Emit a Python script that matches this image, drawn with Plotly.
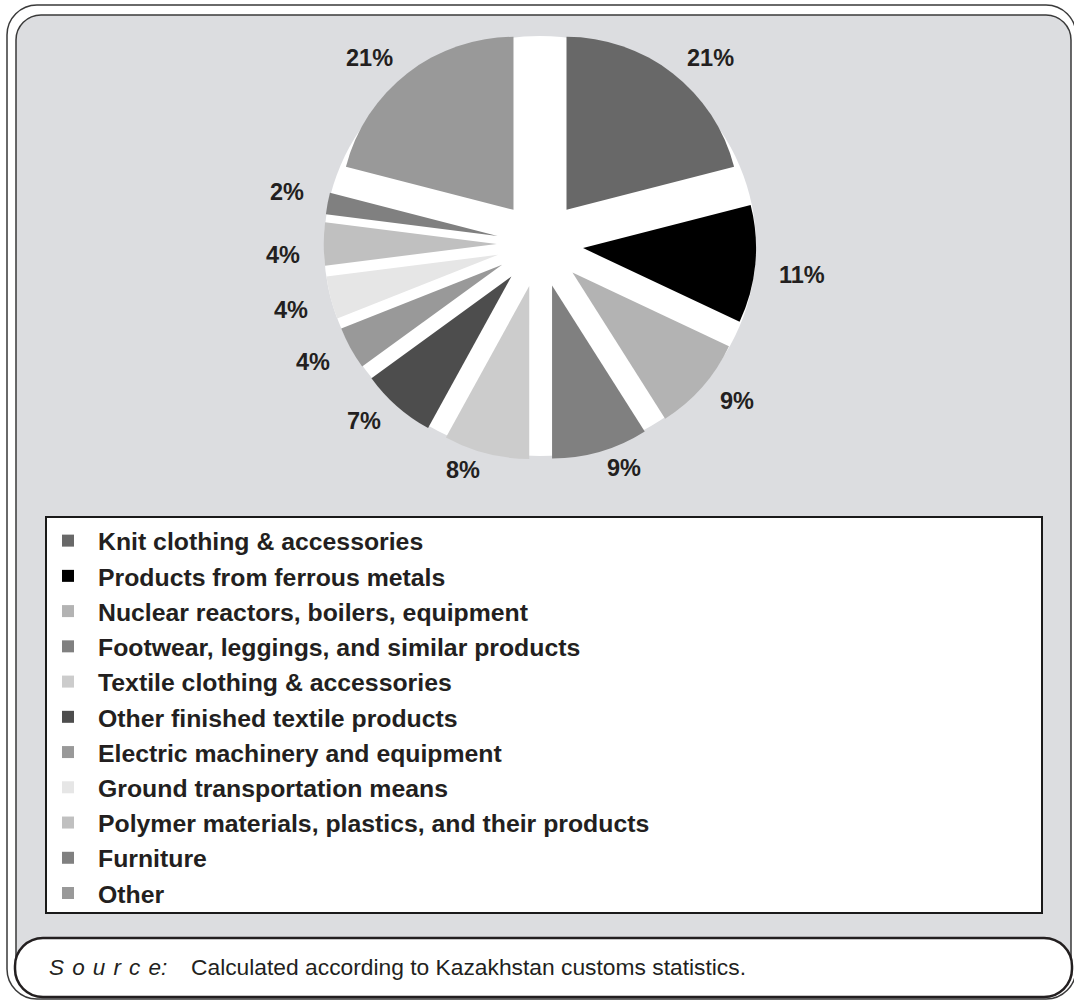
import math
import plotly.graph_objects as go

# Kazakhstan import structure by commodity group, % of total
categories = [
    "Knit clothing & accessories",
    "Products from ferrous metals",
    "Nuclear reactors, boilers, equipment",
    "Footwear, leggings, and similar products",
    "Textile clothing & accessories",
    "Other finished textile products",
    "Electric machinery and equipment",
    "Ground transportation means",
    "Polymer materials, plastics, and their products",
    "Furniture",
    "Other",
]
shares = [21, 11, 9, 9, 8, 7, 4, 4, 4, 2, 21]
slice_colors = [
    "#686868", "#000000", "#b3b3b3", "#808080", "#cccccc", "#4d4d4d",
    "#999999", "#e6e6e6", "#c0c0c0", "#808080", "#999999",
]
source_label = "S\u200a o\u200a u\u200a r\u200a c\u200a e:"
source_text = "Calculated according to Kazakhstan customs statistics."

W, H = 1074, 1000
TEXT = "#231f20"
FONT = "Liberation Sans, Arial, sans-serif"
LABEL_SIZE = 23.5


def rounded_rect(x0, y0, x1, y1, r):
    """SVG path of a rounded rectangle in pixel coordinates (y down)."""
    k = 0.5523 * r
    return (
        f"M{x0 + r},{y0} L{x1 - r},{y0} "
        f"C{x1 - r + k},{y0} {x1},{y0 + r - k} {x1},{y0 + r} "
        f"L{x1},{y1 - r} "
        f"C{x1},{y1 - r + k} {x1 - r + k},{y1} {x1 - r},{y1} "
        f"L{x0 + r},{y1} "
        f"C{x0 + r - k},{y1} {x0},{y1 - r + k} {x0},{y1 - r} "
        f"L{x0},{y0 + r} "
        f"C{x0},{y0 + r - k} {x0 + r - k},{y0} {x0 + r},{y0} Z"
    )


# pie geometry in pixels: centre, radius, explode fraction
pull = 0.25
cx, cy, radius = 540, 244, 173
half_box = radius * (1 + pull)
# label anchor ellipse: the label corner nearest the pie sits on it
label_rx, label_ry = 240, 222

fig = go.Figure()
fig.add_trace(go.Pie(
    labels=categories,
    values=shares,
    sort=False,
    direction="clockwise",
    rotation=0,
    pull=pull,
    marker=dict(colors=slice_colors, line=dict(width=0)),
    textinfo="none",
    domain=dict(
        x=[(cx - half_box) / W, (cx + half_box) / W],
        y=[1 - (cy + half_box) / H, 1 - (cy - half_box) / H],
    ),
    hoverinfo="label+percent",
))

# percentage labels outside each exploded slice, along its mid-angle
annotations = []
total = sum(shares)
cum = 0.0
for v in shares:
    mid = math.radians((cum + v / 2) / total * 360)
    cum += v
    ux, uy = math.sin(mid), -math.cos(mid)
    text = f"{v}%"
    w = (0.556 * (len(text) - 1) + 0.889) * LABEL_SIZE
    h = 0.9 * LABEL_SIZE
    lx = cx + ux * label_rx + math.copysign(w / 2, ux)
    ly = cy + uy * label_ry + math.copysign(h / 2, uy)
    annotations.append(dict(
        x=lx, y=ly, xref="x", yref="y", xanchor="center", yanchor="middle",
        text=text, showarrow=False,
        font=dict(family=FONT, size=LABEL_SIZE, color=TEXT, weight="bold"),
    ))

annotations += [
    dict(x=47, y=967, xref="x", yref="y", xanchor="left", yanchor="middle",
         text=f"<i>{source_label}</i>", showarrow=False,
         font=dict(family=FONT, size=22.5, color=TEXT)),
    dict(x=189, y=967, xref="x", yref="y", xanchor="left", yanchor="middle",
         text=source_text, showarrow=False,
         font=dict(family=FONT, size=22.8, color=TEXT)),
]

shapes = [
    # outer frame
    dict(type="path", path=rounded_rect(7, 5, 1076, 999, 30),
         fillcolor="white", line=dict(color="#3a3a3a", width=1.5)),
    # grey panel
    dict(type="path", path=rounded_rect(16, 15, 1071, 985, 25),
         fillcolor="#dcdde0", line=dict(color="#3a3a3a", width=1.5)),
    # white disc behind the exploded pie
    dict(type="circle", x0=cx - 216, x1=cx + 216, y0=cy - 208, y1=cy + 212,
         fillcolor="white", line=dict(width=0)),
    # legend box
    dict(type="rect", x0=46, y0=517, x1=1042, y1=913,
         fillcolor="white", line=dict(color="#1a1a1a", width=2)),
    # source box
    dict(type="path", path=rounded_rect(15, 938, 1072, 997, 28),
         fillcolor="white", line=dict(color=TEXT, width=2.5)),
]
for s in shapes:
    s.update(xref="x", yref="y", layer="below")

fig.update_layout(
    width=W, height=H,
    margin=dict(l=0, r=0, t=0, b=0, autoexpand=False),
    paper_bgcolor="white",
    plot_bgcolor="rgba(0,0,0,0)",
    xaxis=dict(range=[0, W], visible=False, fixedrange=True, domain=[0, 1]),
    yaxis=dict(range=[H, 0], visible=False, fixedrange=True, domain=[0, 1]),
    shapes=shapes,
    annotations=annotations,
    showlegend=True,
    legend=dict(
        x=38 / W, y=1 - 518 / H, xanchor="left", yanchor="top",
        bgcolor="rgba(0,0,0,0)", borderwidth=0,
        itemwidth=50, traceorder="normal",
        font=dict(family=FONT, size=24.8, color=TEXT, weight="bold"),
    ),
)

fig.write_html("out.html")
